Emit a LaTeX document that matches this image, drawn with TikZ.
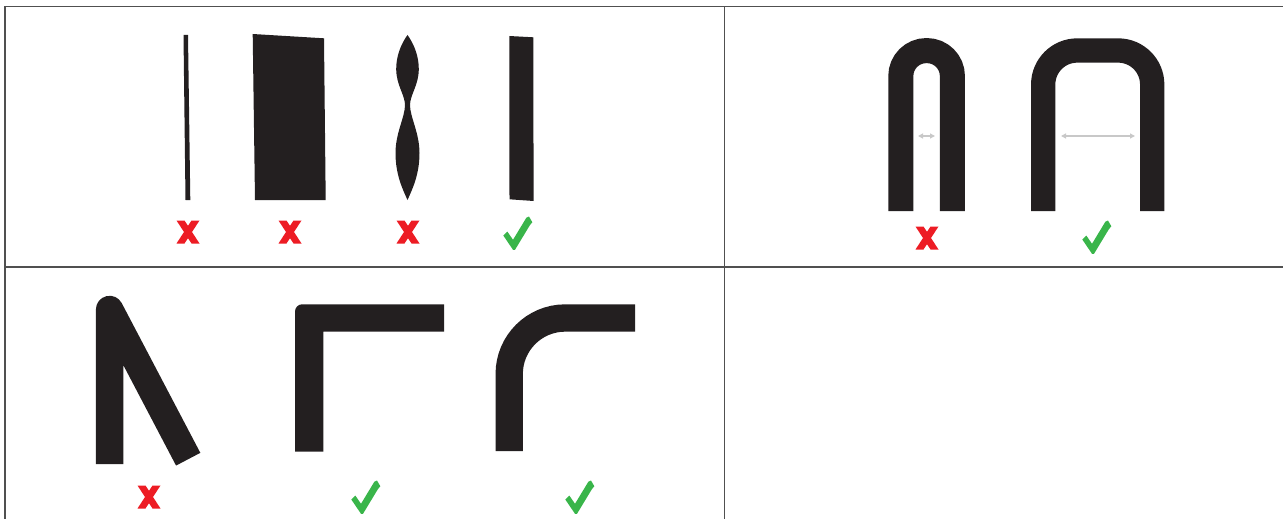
\documentclass[tikz,border=0pt]{standalone}
\usepackage{tikz}
\usetikzlibrary{arrows.meta}
\definecolor{inkblack}{RGB}{35,31,32}
\definecolor{markred}{RGB}{237,28,36}
\definecolor{markgreen}{RGB}{57,181,74}
\definecolor{hintgray}{RGB}{200,200,200}
\definecolor{cellgray}{RGB}{80,80,80}
\begin{document}
\begin{tikzpicture}[x=1pt,y=-1pt,
 cellline/.style={draw=cellgray,line width=1.3pt},
 band/.style={draw=inkblack,line width=#1},
 hint/.style={{Triangle[length=5pt,width=5pt]}-{Triangle[length=5pt,width=5pt]},draw=hintgray,line width=1.2pt},
 nomark/.pic={\fill[markred] (-11.5,-11.5) -- (-3.5,-11.5) -- (11.5,11.5) -- (3.5,11.5) -- cycle;
  \fill[markred] (3.5,-11.5) -- (11.5,-11.5) -- (-3.5,11.5) -- (-11.5,11.5) -- cycle;},
 okmark/.pic={\fill[markgreen] (-14.7,2.5) -- (-10.7,-1.5) -- (-5,6.8) -- (8.3,-15.2) -- (11,-16.5) -- (14.3,-10.8) -- (11.7,-7.5) -- (-3,16.8) -- (-5,16.8) -- cycle;}
]
\useasboundingbox (0,0) rectangle (1283,519);
\coordinate (tl) at (5,6.5);
\coordinate (tr) at (1283,6.5);
\coordinate (bl) at (5,519);
\coordinate (mt) at (724.5,6.5);
\coordinate (mb) at (724.5,519);
\coordinate (ml) at (5,267);
\coordinate (mr) at (1283,267);
\draw[cellline] (bl) -- (tl) -- (tr);
\draw[cellline] (mt) -- (mb);
\draw[cellline] (ml) -- (mr);

\fill[inkblack] (183.5,35) -- (188,35) -- (190.3,200) -- (185.5,200) -- cycle;
\fill[inkblack] (252.7,34) -- (324,38.3) -- (325.7,200) -- (255,200) -- cycle;
\fill[inkblack] (407.5,35) .. controls (414,44) and (418.8,56) .. (418.8,69)
 .. controls (418.8,85) and (410,95) .. (410,105)
 .. controls (410,117) and (419.5,133) .. (419.5,153)
 .. controls (419.5,175) and (412,190) .. (407.5,200)
 .. controls (403,190) and (395.5,175) .. (395.5,153)
 .. controls (395.5,133) and (405,117) .. (405,105)
 .. controls (405,95) and (396.2,85) .. (396.2,69)
 .. controls (396.2,56) and (401,44) .. (407.5,35) -- cycle;
\fill[inkblack] (509.3,36) -- (533.3,37.3) -- (533.6,201) -- (509.5,199.3) -- cycle;
\pic at (188,232) {nomark};
\pic at (290,232) {nomark};
\pic at (408,232) {nomark};
\pic at (518,233) {okmark};

\draw[band=25pt,rounded corners=25.5pt] (900.8,211) -- (900.8,50.6) -- (952.4,50.6) -- (952.4,211);
\draw[band=24.3pt,rounded corners=34pt] (1043.2,211) -- (1043.2,50.5) -- (1152.2,50.5) -- (1152.2,211);
\coordinate (na) at (918,136);
\coordinate (nb) at (935,136);
\coordinate (wa) at (1061,136);
\coordinate (wb) at (1135,136);
\draw[hint] (na) -- (nb);
\draw[hint] (wa) -- (wb);
\pic at (927,238) {nomark};
\pic at (1097,237) {okmark};

\draw[band=27.4pt,line join=round] (109.6,464) -- (109.6,309.5) -- (188.2,459.2);
\fill[inkblack] (295,451.7) -- (295,311.5) to[out=90,in=180] (302.2,304.3) -- (444,304.3) -- (444,331.7) -- (323.3,331.7) -- (323.3,451.7) -- cycle;
\draw[band=27.3pt,rounded corners=56pt] (509.2,451) -- (509.2,318) -- (635,318);
\pic at (149,497) {nomark};
\pic at (366,497) {okmark};
\pic at (580,497) {okmark};
\end{tikzpicture}
\end{document}
